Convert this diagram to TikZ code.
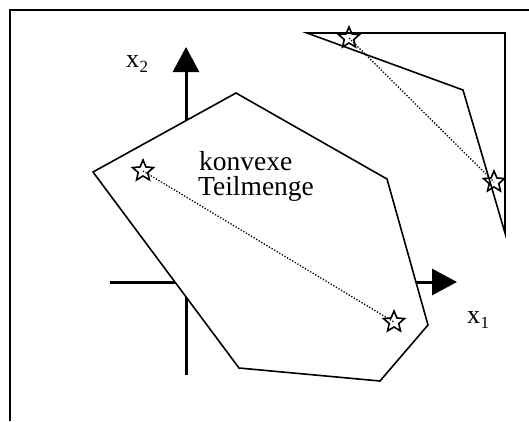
\documentclass[tikz,border=0pt]{standalone}
\usepackage{fontspec}
\setmainfont{Liberation Serif}
\usetikzlibrary{shapes.geometric,arrows.meta}

\begin{document}
\begin{tikzpicture}[x=1pt,y=-1pt,
  edge/.style={line width=1.6pt, line join=miter},
  axis/.style={line width=3pt, -{Triangle[length=25pt,width=26pt]}},
  pt/.style={star, star points=5, star point ratio=2.2, minimum size=22pt,
             inner sep=0pt, draw, line width=1.6pt},
  chord/.style={line width=1.3pt, dash pattern=on 1.3pt off 1.7pt},
  lbl/.style={font=\fontsize{26}{28}\selectfont, inner sep=0pt},
  txt/.style={font=\fontsize{27.5}{30}\selectfont, inner sep=0pt},
  sub/.style={font=\fontsize{17}{18}\selectfont, inner sep=0pt}]
\useasboundingbox (0,0) rectangle (529,421);

% frame (left and top edges)
\draw[line width=1.5pt] (10,421) -- (10,10) -- (529,10);

% coordinate axes
\coordinate (xs) at (110,282);
\coordinate (xe) at (457,282);
\coordinate (ys) at (186,375);
\coordinate (ye) at (186,47);
\draw[axis] (xs) -- (xe);
\draw[axis] (ys) -- (ye);
\node[lbl, anchor=base west] (x1) at (467,323) {x};
\node[sub, anchor=base west] (x1i) at (x1.base east) [yshift=-5pt] {1};
\node[lbl, anchor=base west] (x2) at (126,67) {x};
\node[sub, anchor=base west] (x2i) at (x2.base east) [yshift=-5pt] {2};

% convex set (covers the axes)
\coordinate (c1) at (93,172);
\coordinate (c2) at (236,93);
\coordinate (c3) at (387,179);
\coordinate (c4) at (428,325);
\coordinate (c5) at (380,381);
\coordinate (c6) at (239,368);
\draw[edge, fill=white] (c1) -- (c2) -- (c3) -- (c4) -- (c5) -- (c6) -- cycle;
\node[txt, anchor=base west] (k1) at (199,170) {konvexe};
\node[txt, anchor=base west] (k2) at (198,195) {Teilmenge};

% non-convex set
\coordinate (n1) at (307,33);
\coordinate (n2) at (505,33);
\coordinate (n3) at (505,233);
\coordinate (n4) at (463,90);
\draw[edge] (n1) -- (n2) -- (n3) -- (n4) -- cycle;

% points and connecting segments
\coordinate (a) at (143,171);
\coordinate (b) at (394,322);
\coordinate (c) at (349,38);
\coordinate (d) at (494,182);
\draw[chord] (a) -- (b);
\draw[chord] (c) -- (d);
\node[pt] (pa) at (a) {};
\node[pt] (pb) at (b) {};
\node[pt] (pc) at (c) {};
\node[pt] (pd) at (d) {};
\end{tikzpicture}
\end{document}
